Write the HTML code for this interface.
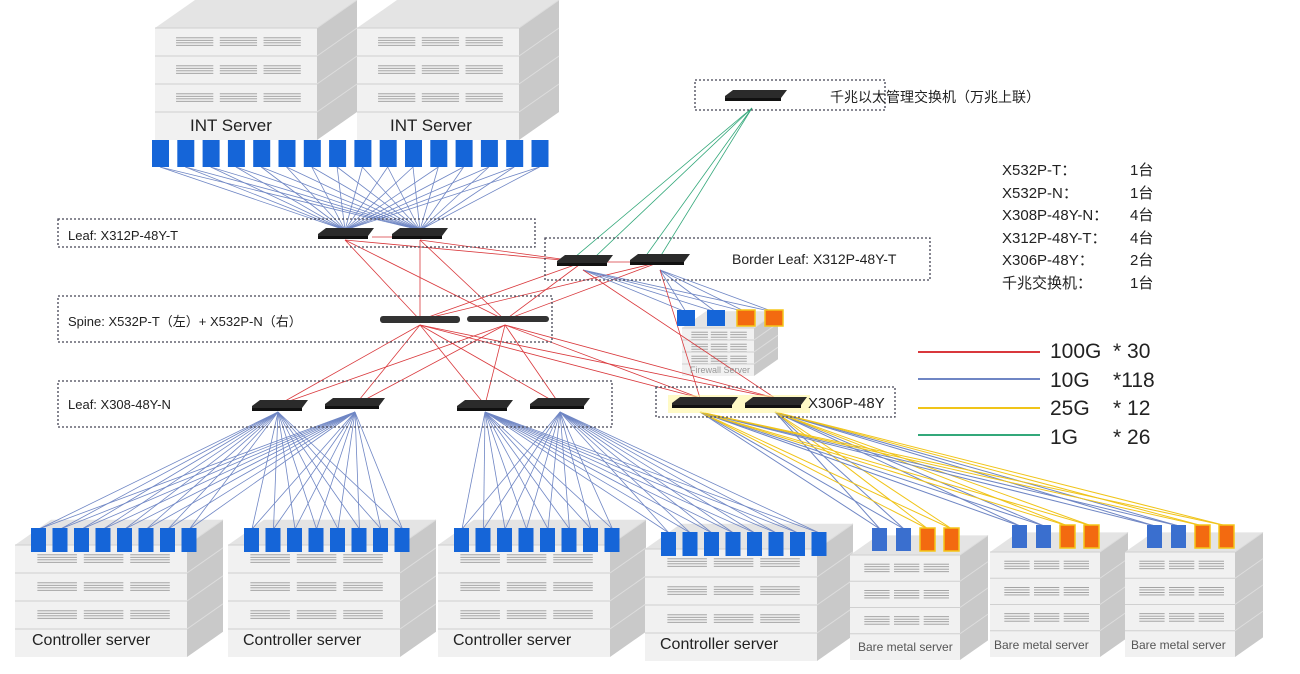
<!DOCTYPE html>
<html><head><meta charset="utf-8"><style>
body{margin:0;background:#fff;width:1300px;height:674px;overflow:hidden;font-family:"Liberation Sans","Noto Sans CJK SC",sans-serif}
svg{position:absolute;left:0;top:0}
.t{position:absolute;white-space:nowrap;color:#222}
</style></head><body>
<svg id="s" width="1300" height="674" xmlns="http://www.w3.org/2000/svg"></svg>
<div class="t" style="left:68px;top:228px;font-size:13px">Leaf: X312P-48Y-T</div>
<div class="t" style="left:732px;top:251px;font-size:14px">Border Leaf: X312P-48Y-T</div>
<div class="t" style="left:68px;top:311px;font-size:13px">Spine: X532P-T（左）+ X532P-N（右）</div>
<div class="t" style="left:68px;top:397px;font-size:13px">Leaf: X308-48Y-N</div>
<div class="t" style="left:808px;top:395px;font-size:15px">X306P-48Y</div>
<div class="t" style="left:830px;top:87px;font-size:14px">千兆以太管理交换机（万兆上联）</div>
<div class="t" style="left:1002px;top:160px;font-size:15px;line-height:22.5px">X532P-T：<br>X532P-N：<br>X308P-48Y-N：<br>X312P-48Y-T：<br>X306P-48Y：<br>千兆交换机：</div>
<div class="t" style="left:1130px;top:160px;font-size:15px;line-height:22.5px">1台<br>1台<br>4台<br>4台<br>2台<br>1台</div>
<div class="t" style="left:1050px;top:338px;font-size:21px;line-height:28.5px">100G &nbsp;* 30<br>10G &nbsp;&nbsp;&nbsp;*118<br>25G &nbsp;&nbsp;&nbsp;* 12<br>1G &nbsp;&nbsp;&nbsp;&nbsp;&nbsp;* 26</div>
<div class="t" style="left:190px;top:116px;font-size:17px">INT Server</div>
<div class="t" style="left:390px;top:116px;font-size:17px">INT Server</div>
<div class="t" style="left:690px;top:365px;font-size:9px;color:#999">Firewall Server</div>
<div class="t" style="left:32px;top:632px;font-size:16px">Controller server</div>
<div class="t" style="left:243px;top:632px;font-size:16px">Controller server</div>
<div class="t" style="left:453px;top:632px;font-size:16px">Controller server</div>
<div class="t" style="left:660px;top:636px;font-size:16px">Controller server</div>
<div class="t" style="left:858px;top:640px;font-size:12px;color:#555">Bare metal server</div>
<div class="t" style="left:994px;top:638px;font-size:12px;color:#555">Bare metal server</div>
<div class="t" style="left:1131px;top:638px;font-size:12px;color:#555">Bare metal server</div>
<script>
const s=document.getElementById('s');let h='';
const L=(x1,y1,x2,y2,c,w)=>h+=`<line x1="${x1}" y1="${y1}" x2="${x2}" y2="${y2}" stroke="${c}" stroke-width="${w||0.8}"/>`;
const R=(x,y,w,ht,f,st)=>h+=`<rect x="${x}" y="${y}" width="${w}" height="${ht}" fill="${f}" ${st||''}/>`;
const box=(x,y,w,ht)=>R(x,y,w,ht,'none','stroke="#445" stroke-width="1.3" stroke-dasharray="2,2"');
const B='#6f86c4',RD='#d9383c',Y='#f0c419',G='#33a87a';
function server(x,y,w,ht,d){
 h+=`<polygon points="${x},${y} ${x+d},${y-d*0.7} ${x+w+d},${y-d*0.7} ${x+w},${y}" fill="#e4e4e4"/>`;
 h+=`<polygon points="${x+w},${y} ${x+w+d},${y-d*0.7} ${x+w+d},${y+ht-d*0.7} ${x+w},${y+ht}" fill="#c9c9c9"/>`;
 R(x,y,w,ht,'#f1f1f1');
 const rh=ht/4;
 for(let i=0;i<4;i++){L(x,y+i*rh,x+w,y+i*rh,'#d0d0d0',1);L(x+w,y+i*rh,x+w+d,y+i*rh-d*0.7,'#ddd',1);
  if(i<3)for(let j=0;j<3;j++)for(let k=0;k<4;k++)L(x+w*0.13+j*w*0.27,y+i*rh+rh*0.35+k*2.5,x+w*0.13+j*w*0.27+w*0.23,y+i*rh+rh*0.35+k*2.5,'#999',0.8);}
}
function sw(x,y,w){h+=`<polygon points="${x},${y+6} ${x+8},${y} ${x+w},${y} ${x+w-6},${y+8} ${x},${y+8}" fill="#2b2b2b"/>`;R(x,y+8,w-6,3,'#111');}
server(155,28,162,112,40);server(357,28,162,112,40);
[[15,545],[228,545],[438,545],[645,549]].forEach(([x,y])=>server(x,y,172,112,36));
[[850,555],[990,552],[1125,552]].forEach(([x,y])=>server(x,y,110,105,28));
server(682,328,72,48,24);
const intP=[];for(let i=0;i<16;i++)intP.push(160+i*25.3);
intP.forEach(x=>{L(x,167,345,230,B);L(x,167,420,230,B)});
[[345,240],[420,240]].forEach(([x,y])=>{L(x,y,420,320,RD);L(x,y,505,320,RD);L(x,y,583,262,RD)});
L(583,262,420,320,RD);L(583,262,505,320,RD);L(660,262,420,320,RD);L(660,262,505,320,RD);L(595,262,660,262,RD);L(372,237,392,237,RD);
[575,595,645,660].forEach(x=>L(752,108,x,257,G));
[[583,270],[660,270]].forEach(([x,y])=>[686,716,746,774].forEach(p=>L(x,y,p,312,B)));
const lf=[278,355,485,560];
lf.forEach(x=>{L(420,325,x,405,RD);L(505,325,x,405,RD)});
L(420,325,700,398,RD);L(505,325,775,398,RD);L(420,325,775,398,RD);L(505,325,700,398,RD);
L(660,270,700,398,RD);L(583,270,775,398,RD);
const cs=[[15,545],[228,545],[438,545],[645,549]];
cs.forEach(([x,y],ci)=>{for(let i=0;i<8;i++){const px=x+24+i*21.5;const a=ci<2?[278,355]:[485,560];L(px,y-16,a[0],412,B);L(px,y-16,a[1],412,B);}});
[[850,555],[990,552],[1125,552]].forEach(([x,y])=>{for(let i=0;i<4;i++){const px=x+30+i*24;const c=i<2?B:Y;L(px,y-26,700,412,c,1);L(px,y-26,775,412,c,1);}});
intP.forEach(x=>R(x-8,140,17,27,'#1565d8'));
cs.forEach(([x,y])=>{for(let i=0;i<8;i++)R(x+16+i*21.5,y-17,15,24,'#1565d8')});
[[850,555],[990,552],[1125,552]].forEach(([x,y])=>{for(let i=0;i<4;i++)R(x+22+i*24,y-27,15,23,i<2?'#3a6fcf':'#f36a10',i<2?'':'stroke="#f5c518" stroke-width="1.5"')});
R(677,310,18,16,'#1565d8');R(707,310,18,16,'#1565d8');R(737,310,18,16,'#f36a10','stroke="#f5c518" stroke-width="1.5"');R(765,310,18,16,'#f36a10','stroke="#f5c518" stroke-width="1.5"');
box(58,219,477,28);box(545,238,385,42);box(695,80,190,30);box(58,296,494,46);box(58,381,554,46);box(656,387,239,30);
sw(318,228,56);sw(392,228,56);sw(557,255,56);sw(630,254,60);sw(725,90,62);
sw(252,400,56);sw(325,398,60);sw(457,400,56);sw(530,398,60);
h+=`<rect x="668" y="395" width="142" height="18" fill="#fff6a0" opacity="0.6"/>`;
sw(672,397,66);sw(745,397,62);
R(380,316,80,7,'#333','rx="3"');R(467,316,82,6,'#333','rx="3"');
L(918,352,1040,352,RD,2);L(918,379,1040,379,B,2);L(918,408,1040,408,Y,2);L(918,435,1040,435,G,2);
s.innerHTML=h;
</script>
</body></html>
